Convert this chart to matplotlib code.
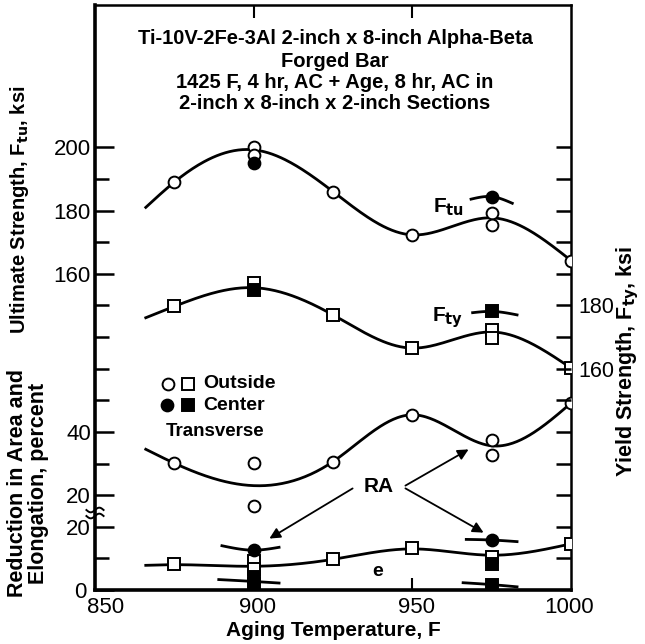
import numpy as np
import matplotlib
matplotlib.use("Agg")
import matplotlib.pyplot as plt
from matplotlib.transforms import ScaledTranslation

plt.rcParams['font.family'] = ['Liberation Sans', 'DejaVu Sans']

# ---- data -------------------------------------------------------------
# Ultimate strength, ksi
ftu_out_t = [875, 900, 900, 925, 950, 975, 975, 1000]
ftu_out = [189, 200, 197.7, 186, 172.3, 179.3, 175.5, 164.2]
ftu_ctr_t = [900, 975]
ftu_ctr = [195.1, 184.3]
ftu_fit_t = [866, 875, 900, 925, 950, 975, 1000]
ftu_fit = [181, 189, 199.2, 186, 172.3, 177.7, 164.2]
ftu_ctr_fit_t = [968.5, 975, 981.5]
ftu_ctr_fit = [183.6, 184.4, 182.3]

# Yield strength, ksi
fty_out_t = [875, 900, 925, 950, 975, 975, 1000]
fty_out = [179.7, 187.1, 177, 166.6, 172.3, 169.7, 160.2]
fty_ctr_t = [900, 975]
fty_ctr = [184.9, 178.1]
fty_fit_t = [866, 875, 900, 925, 950, 975, 1000]
fty_fit = [176.1, 179.7, 185.6, 177, 166.5, 171.6, 160.2]
fty_ctr_fit_t = [969, 975, 983]
fty_ctr_fit = [177.7, 178.1, 177.0]

# Reduction in area, percent
ra_out_t = [875, 900, 900, 925, 950, 975, 975, 1000]
ra_out = [30.1, 30.1, 16.6, 30.6, 45.4, 37.5, 32.7, 49.1]
ra_fit_t = [866, 875, 900, 925, 950, 975, 1000]
ra_fit = [34.5, 30.1, 23.0, 30.6, 45.4, 35.6, 49.1]
ra_ctr_t = [900, 975]
ra_ctr = [12.7, 15.8]
ra_ctr_fit_900_t = [890, 900, 908]
ra_ctr_fit_900 = [14.0, 12.6, 13.5]
ra_ctr_fit_975_t = [967, 975, 983]
ra_ctr_fit_975 = [16.0, 15.8, 15.3]

# Elongation, percent
el_out_t = [875, 900, 900, 925, 950, 975, 1000]
el_out = [8.1, 9.2, 6.6, 9.7, 13.2, 10.4, 14.6]
el_ctr_t = [900, 900, 975, 975]
el_ctr = [4.1, 1.9, 8.2, 1.6]
el_fit_t = [866, 875, 900, 925, 950, 975, 1000]
el_fit = [7.8, 8.0, 7.5, 9.7, 13.0, 11.0, 14.6]
el_ctr_fit_900_t = [889, 900, 908]
el_ctr_fit_900 = [3.3, 2.7, 2.2]
el_ctr_fit_975_t = [966, 975, 983]
el_ctr_fit_975 = [2.3, 1.7, 1.0]

x_ticks = [850, 900, 950, 1000]
title_lines = ["Ti-10V-2Fe-3Al 2-inch x 8-inch Alpha-Beta",
               "Forged Bar",
               "1425 F, 4 hr, AC + Age, 8 hr, AC in",
               "2-inch x 8-inch x 2-inch Sections"]

# ---- stacked scales: one grid unit per 10 of each quantity -------------
def ftu_pos(v): return np.asarray(v, float) / 10 - 6
def fty_pos(v): return np.asarray(v, float) / 10 - 9
def ra_pos(v): return np.asarray(v, float) / 10 + 1
def el_pos(v): return np.asarray(v, float) / 10


def smooth(xk, yk, n=300):
    """Natural cubic spline through the knots."""
    x = np.asarray(xk, float)
    y = np.asarray(yk, float)
    m = len(x)
    h = np.diff(x)
    A = np.zeros((m, m))
    b = np.zeros(m)
    A[0, 0] = A[-1, -1] = 1
    for i in range(1, m - 1):
        A[i, i - 1] = h[i - 1]
        A[i, i] = 2 * (h[i - 1] + h[i])
        A[i, i + 1] = h[i]
        b[i] = 6 * ((y[i + 1] - y[i]) / h[i] - (y[i] - y[i - 1]) / h[i - 1])
    M = np.linalg.solve(A, b)
    xs = np.linspace(x[0], x[-1], n)
    idx = np.clip(np.searchsorted(x, xs) - 1, 0, m - 2)
    x0, x1 = x[idx], x[idx + 1]
    hh = x1 - x0
    t0, t1 = x1 - xs, xs - x0
    ys = (M[idx] * t0 ** 3 / (6 * hh) + M[idx + 1] * t1 ** 3 / (6 * hh)
          + (y[idx] / hh - M[idx] * hh / 6) * t0
          + (y[idx + 1] / hh - M[idx + 1] * hh / 6) * t1)
    return xs, ys


fig = plt.figure(figsize=(6.45, 6.44), dpi=100)
L, R, B, T = 95, 571, 590, 5
ax = fig.add_axes([L / 645, 1 - B / 644, (R - L) / 645, (B - T) / 644])
ax.set_xlim(850, 1000)
ax.set_ylim(0, 18.5)

lw = 2.0
ms = 8.5
mew = 1.4
open_c = dict(marker='o', ms=ms, mfc='white', mec='black', mew=mew, ls='none', zorder=5)
open_s = dict(marker='s', ms=ms - 0.5, mfc='white', mec='black', mew=mew, ls='none', zorder=5)
fill_c = dict(marker='o', ms=ms, mfc='black', mec='black', mew=mew, ls='none', zorder=6)
fill_s = dict(marker='s', ms=ms - 0.5, mfc='black', mec='black', mew=mew, ls='none', zorder=6)

# fitted curves
for tk, vk, pos in [(ftu_fit_t, ftu_fit, ftu_pos), (fty_fit_t, fty_fit, fty_pos),
                    (ra_fit_t, ra_fit, ra_pos), (el_fit_t, el_fit, el_pos)]:
    xs, ys = smooth(tk, vk)
    ax.plot(xs, pos(ys), color='black', lw=lw, zorder=3)

# short centre-location curve segments
for tk, vk, pos in [(ftu_ctr_fit_t, ftu_ctr_fit, ftu_pos),
                    (fty_ctr_fit_t, fty_ctr_fit, fty_pos),
                    (ra_ctr_fit_900_t, ra_ctr_fit_900, el_pos),
                    (ra_ctr_fit_975_t, ra_ctr_fit_975, el_pos),
                    (el_ctr_fit_900_t, el_ctr_fit_900, el_pos),
                    (el_ctr_fit_975_t, el_ctr_fit_975, el_pos)]:
    xs, ys = smooth(tk, vk, 60)
    ax.plot(xs, pos(ys), color='black', lw=lw, zorder=3)

# data points
ax.plot(ftu_out_t, ftu_pos(ftu_out), **open_c)
ax.plot(ftu_ctr_t, ftu_pos(ftu_ctr), **fill_c)
ax.plot(fty_out_t, fty_pos(fty_out), **open_s)
ax.plot(fty_ctr_t, fty_pos(fty_ctr), **fill_s)
ax.plot(ra_out_t, ra_pos(ra_out), **open_c)
ax.plot(ra_ctr_t, el_pos(ra_ctr), **fill_c)
ax.plot(el_out_t, el_pos(el_out), **open_s)
ax.plot(el_ctr_t, el_pos(el_ctr), **fill_s)

# ---- axes styling ------------------------------------------------------
for side in ['left', 'bottom']:
    ax.spines[side].set_linewidth(2.6)
for side in ['top', 'right']:
    ax.spines[side].set_linewidth(1.8)

left_major = {0: '0', 2: '20', 3: '20', 5: '40', 10: '160', 12: '180', 14: '200'}
ax.set_yticks(list(left_major.keys()))
ax.set_yticklabels(list(left_major.values()))
ax.set_yticks([k for k in range(1, 15) if k not in left_major], minor=True)
ax.tick_params(axis='y', which='major', direction='in', length=14, width=1.8,
               labelsize=16, pad=3)
ax.tick_params(axis='y', which='minor', direction='in', length=10, width=1.8)

ax.set_xticks(x_ticks)
ax.set_xticklabels([str(v) for v in x_ticks])
ax.tick_params(axis='x', which='major', direction='in', length=9, width=1.5,
               labelsize=16, pad=5, top=True)
for tl in ax.xaxis.get_major_ticks():
    if tl.get_loc() in (850, 1000):
        tl.tick1line.set_visible(False)
        tl.tick2line.set_visible(False)

# nudge the crowded corner labels apart
x_shift = {850: 11, 900: 4, 950: 4, 1000: -2}
for lab, v in zip(ax.get_xticklabels(), x_ticks):
    lab.set_transform(lab.get_transform() +
                      ScaledTranslation(x_shift[v] / 100, 0, fig.dpi_scale_trans))
ylabs = ax.get_yticklabels()
ylabs[0].set_transform(ylabs[0].get_transform() +
                       ScaledTranslation(-4 / 100, 0, fig.dpi_scale_trans))

ax2 = ax.twinx()
ax2.set_ylim(ax.get_ylim())
ax2.set_yticks([7, 9])
ax2.set_yticklabels(['160', '180'])
ax2.set_yticks([k for k in range(1, 15) if k not in (7, 9)], minor=True)
ax2.tick_params(axis='y', which='both', direction='in', length=11, width=1.8,
                labelsize=15.5, pad=5)
for sp in ax2.spines.values():
    sp.set_visible(False)

# axis break on the percent scale
bx = np.linspace(-0.018, 0.018, 30)
for yb in (510, 516):
    yf = (B - yb) / (B - T)
    ax.plot(bx, yf + 0.004 * np.sin(bx / 0.018 * np.pi), transform=ax.transAxes,
            color='black', lw=1.4, clip_on=False, zorder=10)

# ---- text -------------------------------------------------------------
def fx(px): return px / 645
def fy(py): return 1 - py / 644

for i, line in enumerate(title_lines):
    fig.text(fx(335), fy([39, 61.5, 82.5, 103.5][i]), line, ha='center', va='center',
             fontsize=14.5, fontweight='bold')

fig.text(fx(20), fy(210), r"Ultimate Strength, F$_{\mathbf{tu}}$, ksi", rotation=90,
         ha='center', va='center', fontsize=14.5, fontweight='bold')
fig.text(fx(28), fy(483), "Reduction in Area and\nElongation, percent", rotation=90,
         ha='center', va='center', fontsize=15.5, fontweight='bold', linespacing=0.95)
fig.text(fx(628), fy(362), r"Yield Strength, F$_{\mathbf{ty}}$, ksi", rotation=90,
         ha='center', va='center', fontsize=15.5, fontweight='bold')
fig.text(fx(333), fy(630), "Aging Temperature, F", ha='center', va='center',
         fontsize=15, fontweight='bold')

# legend
def px2data(px, py):
    return (850 + (px - L) / (R - L) * 150, (B - py) / (B - T) * 18.5)

for (px, py), style in [((168, 384), open_c), ((188, 384), open_s),
                        ((167, 405), fill_c), ((188, 405), fill_s)]:
    x, y = px2data(px, py)
    ax.plot([x], [y], **style)
ax.text(*px2data(203, 384), "Outside", fontsize=14, fontweight='bold', va='center')
ax.text(*px2data(203, 405), "Center", fontsize=14, fontweight='bold', va='center')
ax.text(*px2data(166, 432), "Transverse", fontsize=13.5, fontweight='bold', va='center')

ax.text(*px2data(433, 207), r"F$_{\mathbf{tu}}$", fontsize=15, fontweight='bold', va='center')
ax.text(*px2data(432, 318), r"F$_{\mathbf{ty}}$", fontsize=15, fontweight='bold', va='center')
ax.text(*px2data(378, 572), "e", fontsize=14, fontweight='bold', ha='center', va='center')

ra_xy = px2data(379, 487)
ax.text(*ra_xy, "RA", fontsize=15, fontweight='bold', ha='center', va='center')
arrow = dict(arrowstyle='-|>', color='black', lw=1.3, mutation_scale=16)
for (sx, sy), (tx, ty) in [((355, 487), (267, 540)),
                           ((403, 487), (486, 534)),
                           ((403, 487), (471, 448))]:
    ax.annotate("", xy=px2data(tx, ty), xytext=px2data(sx, sy), arrowprops=arrow)

fig.savefig("out.png", dpi=100)
